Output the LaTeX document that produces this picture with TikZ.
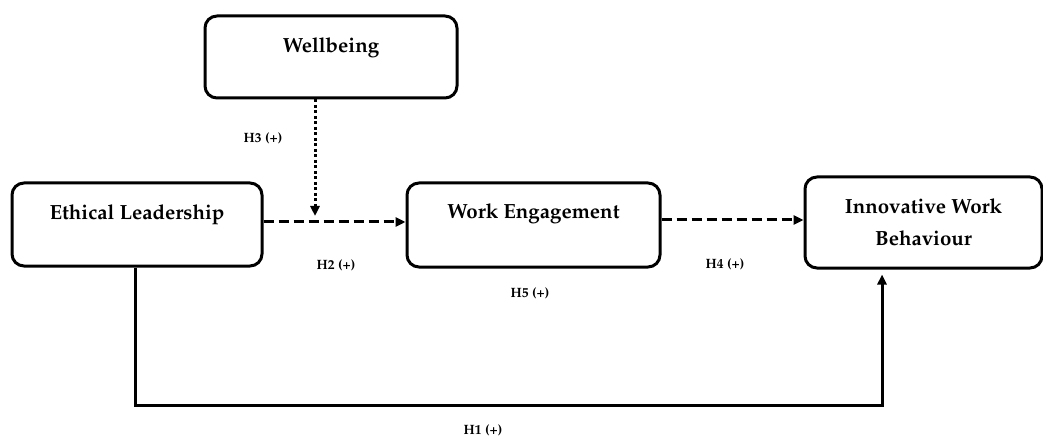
\documentclass[tikz,border=0pt]{standalone}
\usepackage[T1]{fontenc}
\usepackage{palatino}
\usetikzlibrary{arrows.meta}
\tikzset{
  box/.style={draw=black, line width=3pt, rounded corners=12pt, inner sep=0pt},
  boxtext/.style={font=\fontsize{20.5}{32}\selectfont\bfseries, align=center, inner sep=0pt},
  hyp/.style={font=\fontsize{13.5}{15}\selectfont\bfseries, inner sep=0pt},
  tip/.style={-{Triangle[length=10pt,width=9pt]}},
  dashedarrow/.style={tip, line width=3pt, dash pattern=on 10pt off 5pt},
  dottedarrow/.style={tip, line width=3pt, dash pattern=on 3pt off 2.5pt},
  solidarrow/.style={tip, line width=3pt}
}
\begin{document}
\begin{tikzpicture}[x=1pt,y=-1pt]
\useasboundingbox (0,0) rectangle (1043,438);
% boxes
\node[box, minimum width=252pt, minimum height=82pt,
      label={[boxtext, yshift=9pt]center:Wellbeing}] (wb) at (331,57) {};
\node[box, minimum width=250pt, minimum height=83pt,
      label={[boxtext, yshift=9.5pt]center:Ethical Leadership}] (el) at (137,224.5) {};
\node[box, minimum width=253pt, minimum height=84pt,
      label={[boxtext, yshift=11pt]center:Work Engagement}] (we) at (533.5,225) {};
\node[box, minimum width=237pt, minimum height=91pt,
      label={[boxtext]center:Innovative Work\\Behaviour}] (iwb) at (923.5,222.5) {};
% connectors
\coordinate (h3end) at (315,216);
\coordinate (h1a) at (135,405);
\coordinate (h1b) at (882,405);
\draw[dashedarrow] ([yshift=2.5pt]el.east) -- ([yshift=3pt]we.west);
\draw[dashedarrow] ([yshift=5pt]we.east) -- ([yshift=2.5pt]iwb.west);
\draw[dottedarrow] ([xshift=-16pt]wb.south) -- (h3end);
\draw[solidarrow, shorten >=5pt] ([xshift=-2pt]el.south) -- (h1a) -- (h1b) -- ([xshift=-41.5pt]iwb.south);
% labels
\node[hyp] (l3) at (263,138) {H3 (+)};
\node[hyp] (l2) at (336,265) {H2 (+)};
\node[hyp] (l4) at (725,264) {H4 (+)};
\node[hyp] (l5) at (530,293) {H5 (+)};
\node[hyp] (l1) at (483,430) {H1 (+)};
\end{tikzpicture}
\end{document}
